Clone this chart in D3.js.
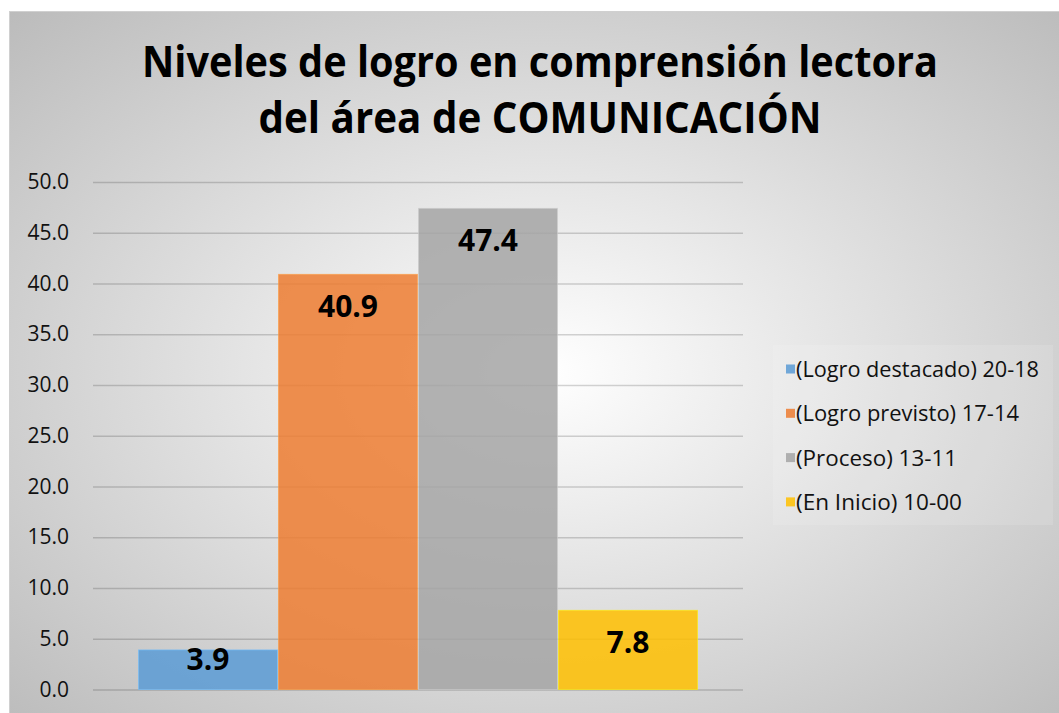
<!DOCTYPE html>
<html>
<head>
<meta charset="utf-8">
<script src="https://cdn.jsdelivr.net/npm/d3@7"></script>
<style>
  html, body { margin: 0; padding: 0; background: #fff; }
  svg { display: block; font-family: "Open Sans", "Noto Sans", sans-serif; }
</style>
</head>
<body>
<div id="chart"></div>
<script>
// data
const series = ["(Logro destacado) 20-18", "(Logro previsto) 17-14", "(Proceso) 13-11", "(En Inicio) 10-00"];
const values = [3.9, 40.9, 47.4, 7.8];
const colors = ["#5b9bd5", "#ed7d31", "#a5a5a5", "#ffc000"];
const yTicks = [0, 5, 10, 15, 20, 25, 30, 35, 40, 45, 50];
const titleLines = ["Niveles de logro en comprensión lectora", "del área de COMUNICACIÓN"];

const width = 1059, height = 713;
const margin = {top: 182, right: 316, bottom: 24, left: 93};

let svg = d3.select("#chart")
    .append("svg")
    .attr("width", width)
    .attr("height", height);

// radial grey background of the chart area
let defs = svg.append("defs");
let grad = defs.append("radialGradient")
    .attr("id", "bg")
    .attr("cx", "50%").attr("cy", "50%").attr("r", "72%");
grad.append("stop").attr("offset", "0%").attr("stop-color", "#ffffff");
grad.append("stop").attr("offset", "100%").attr("stop-color", "#bababa");

svg.append("rect")
    .attr("x", 9.5).attr("y", 11.5)
    .attr("width", 1070).attr("height", 720)
    .attr("fill", "url(#bg)")
    .attr("stroke", "#d0d0d0")
    .attr("stroke-width", 1);

// title
svg.append("g").selectAll("text")
    .data(titleLines)
    .enter()
    .append("text")
    .attr("x", 540)
    .attr("y", (d, i) => 77 + i * 56)
    .attr("text-anchor", "middle")
    .attr("font-size", 43)
    .attr("font-weight", "bold")
    .attr("fill", "#000")
    .attr("textLength", (d, i) => i == 0 ? 796 : 563)
    .attr("lengthAdjust", "spacingAndGlyphs")
    .text(d => d);

let plotW = width - margin.left - margin.right;
let plotH = height - margin.top - margin.bottom;

let g = svg.append("g")
    .attr("transform", `translate(${margin.left}, ${margin.top})`);

let y = d3.scaleLinear()
    .domain([0, 50])
    .range([plotH + 0.5, 0]);

let x0 = d3.scaleBand()
    .domain(["COMUNICACIÓN"])
    .range([0, plotW])
    .paddingInner(0)
    .paddingOuter(0.0804);

let x1 = d3.scaleBand()
    .domain(series)
    .range([0, x0.bandwidth()])
    .padding(0);

// gridlines + tick labels through the axis generator
let yAxis = g.append("g")
    .call(d3.axisLeft(y)
        .tickValues(yTicks)
        .tickSize(-plotW)
        .tickPadding(24)
        .tickFormat(d3.format(".1f")));
yAxis.select(".domain").remove();
yAxis.selectAll(".tick line")
    .attr("stroke", "#000")
    .attr("stroke-opacity", 0.17)
    .attr("stroke-width", 1.3);
yAxis.selectAll(".tick text")
    .attr("font-family", "'Open Sans', sans-serif")
    .attr("font-size", 21)
    .attr("fill", "#111");

let band = x0("COMUNICACIÓN");

// bars
g.append("g").selectAll("rect")
    .data(values)
    .enter()
    .append("rect")
    .attr("x", (d, i) => band + x1(series[i]) + 0.5)
    .attr("y", d => y(d))
    .attr("width", x1.bandwidth() - 1)
    .attr("height", d => y(0) - y(d))
    .attr("fill", (d, i) => colors[i])
    .attr("fill-opacity", 0.85)
    .attr("stroke", (d, i) => d3.color(colors[i]).brighter(0.6))
    .attr("stroke-opacity", 0.6)
    .attr("stroke-width", 1);

// value labels, inside end
g.append("g").selectAll("text")
    .data(values)
    .enter()
    .append("text")
    .attr("x", (d, i) => band + x1(series[i]) + x1.bandwidth() / 2)
    .attr("y", d => Math.min(y(d) + 43, y(0) - 20))
    .attr("text-anchor", "middle")
    .attr("font-size", 30)
    .attr("font-weight", "bold")
    .attr("fill", "#000")
    .text(d => d.toFixed(1));

// legend
let legend = svg.append("g");
legend.append("rect")
    .attr("x", 773).attr("y", 345)
    .attr("width", 280).attr("height", 180)
    .attr("fill", "#fff")
    .attr("fill-opacity", 0.12);

let items = legend.selectAll("g.item")
    .data(series)
    .enter()
    .append("g")
    .attr("class", "item")
    .attr("transform", (d, i) => `translate(786, ${369 + i * 44.3})`);

items.append("rect")
    .attr("x", 0).attr("y", -4.5)
    .attr("width", 9).attr("height", 9)
    .attr("fill", (d, i) => colors[i])
    .attr("fill-opacity", 0.85);

items.append("text")
    .attr("x", 10)
    .attr("y", 8)
    .attr("font-size", 21)
    .attr("fill", "#111")
    .attr("textLength", (d, i) => [243, 223, 161, 166][i])
    .attr("lengthAdjust", "spacingAndGlyphs")
    .text(d => d);
</script>
</body>
</html>
